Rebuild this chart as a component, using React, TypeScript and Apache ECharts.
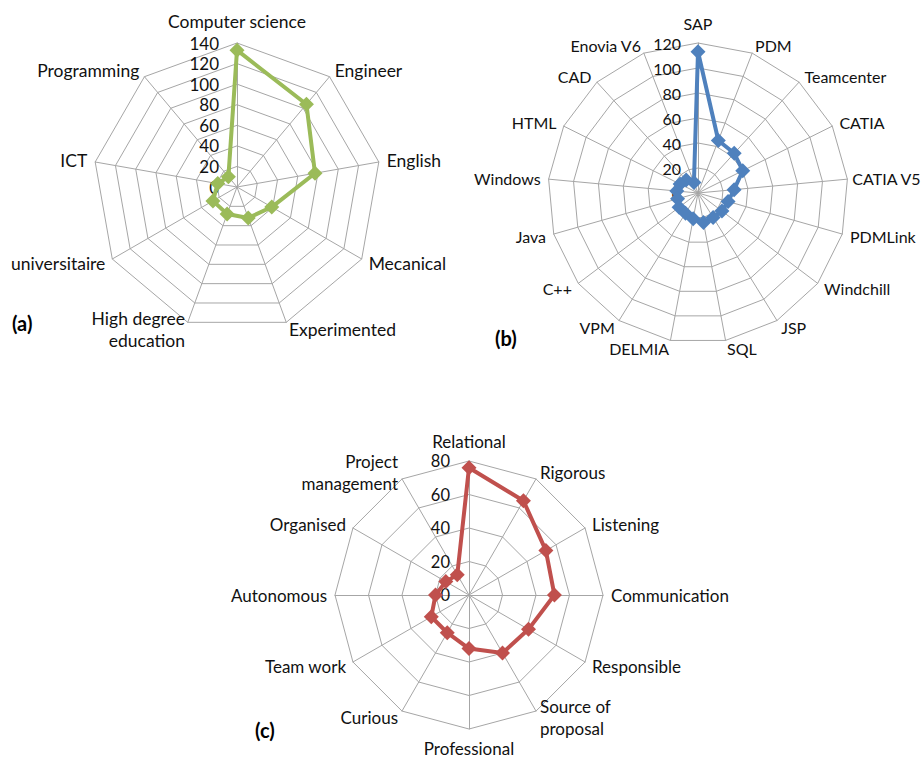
import React, { useEffect, useRef } from "react";
import * as echarts from "echarts";

const namesA = ["Computer science", "Engineer", "English", "Mecanical", "Experimented", "High degree\neducation", "universitaire", "ICT", "Programming"];
const valuesA = [133, 105, 77, 39, 32, 28, 27, 19, 13];

const namesB = ["SAP", "PDM", "Teamcenter", "CATIA", "CATIA V5", "PDMLink", "Windchill", "JSP", "SQL", "DELMIA", "VPM", "C++", "Java", "Windows", "HTML", "CAD", "Enovia V6"];
const valuesB = [113, 45, 43, 40, 29, 25, 24, 23, 24, 21, 19, 19, 17, 17, 16, 14, 9];

const namesC = ["Relational", "Rigorous", "Listening", "Communication", "Responsible", "Source of\nproposal", "Professional", "Curious", "Team work", "Autonomous", "Organised", "Project\nmanagement"];
const valuesC = [76, 65, 53, 51, 41, 40, 32, 26, 26, 20, 16, 14];

// ECharts radar runs counter-clockwise; Excel runs clockwise
const cw = <T,>(arr: T[]): T[] => [arr[0], ...arr.slice(1).reverse()];

const FONT = "Lato";

function radarCfg(
  names: string[],
  max: number,
  split: number,
  center: [number, number],
  radius: number,
  nameSize: number,
  tickSize: number,
  tickMargin: number,
  topGap: number,
  gapOverride: Record<string, number> = {}
) {
  return {
    center,
    radius,
    startAngle: 90,
    shape: "polygon",
    splitNumber: split,
    axisNameGap: 8,
    axisName: { color: "#111", fontFamily: FONT, fontSize: nameSize, lineHeight: 22 },
    splitLine: { lineStyle: { color: "#a6a6a6", width: 1 } },
    splitArea: { show: false },
    axisLine: { lineStyle: { color: "#a6a6a6", width: 1 } },
    axisTick: { show: false },
    axisLabel: { show: false },
    indicator: cw(names).map((n, i) => ({
      name: n,
      min: 0,
      max,
      ...(i === 0 ? { nameGap: topGap } : {}),
      ...(gapOverride[n] != null ? { nameGap: gapOverride[n] } : {}),
      ...(i === 0
        ? { axisLabel: { show: true, color: "#111", fontFamily: FONT, fontSize: tickSize, margin: tickMargin } }
        : {}),
    })),
  };
}

function seriesCfg(idx: number, values: number[], color: string) {
  return {
    type: "radar",
    radarIndex: idx,
    symbol: "diamond",
    symbolSize: 15,
    lineStyle: { color, width: 4 },
    itemStyle: { color },
    data: [{ value: cw(values) }],
  };
}

export default function App() {
  const ref = useRef<HTMLDivElement>(null);
  useEffect(() => {
    if (!ref.current) return;
    const chart = echarts.init(ref.current, undefined, { renderer: "svg" });
    chart.setOption({
      animation: false,
      backgroundColor: "#ffffff",
      radar: [
        radarCfg(namesA, 140, 7, [237, 187], 144, 17.5, 17, 18, 11),
        radarCfg(namesB, 120, 6, [698, 193], 150, 16, 16, 17, 9, { "CATIA V5": 5 }),
        radarCfg(namesC, 80, 4, [469, 595], 134, 17, 16.5, 19, 9),
      ],
      series: [
        seriesCfg(0, valuesA, "#9BBB59"),
        seriesCfg(1, valuesB, "#4F81BD"),
        seriesCfg(2, valuesC, "#C0504D"),
      ],
      graphic: [
        { type: "text", left: 12, top: 313, style: { text: "(a)", font: `bold 20px ${FONT}`, fill: "#000" } },
        { type: "text", left: 495, top: 328, style: { text: "(b)", font: `bold 20px ${FONT}`, fill: "#000" } },
        { type: "text", left: 255, top: 720, style: { text: "(c)", font: `bold 20px ${FONT}`, fill: "#000" } },
      ],
    });
    return () => chart.dispose();
  }, []);
  return (
    <div
      ref={ref}
      style={{ position: "fixed", left: 0, top: 0, width: 921, height: 758, background: "#fff" }}
    />
  );
}
